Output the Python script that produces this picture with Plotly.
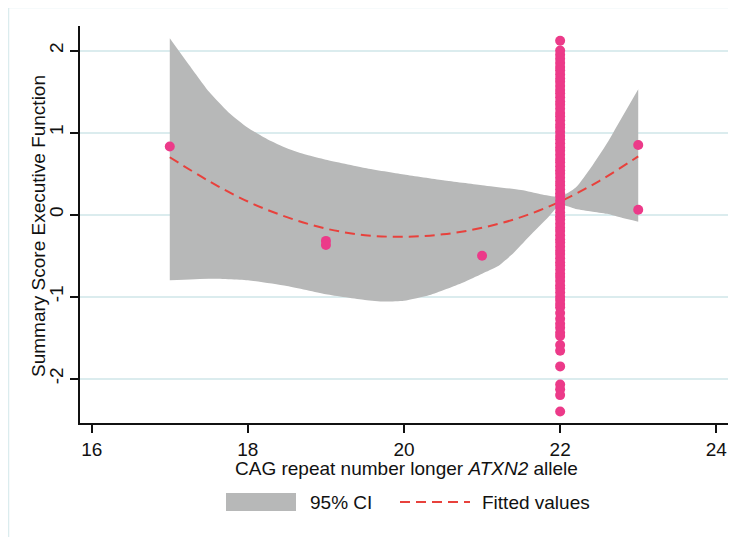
import plotly.graph_objects as go

# ---- data ----
scatter_x_other = [17, 19, 19, 21, 23, 23]
scatter_y_other = [0.83, -0.32, -0.37, -0.50, 0.85, 0.06]

col22_y = [2.12, 2.00, 1.95, 1.90, 1.85, 1.80, 1.76, 1.71, 1.66, 1.62, 1.57, 1.52,
           1.48, 1.43, 1.38, 1.34, 1.29, 1.24, 1.20, 1.15, 1.10, 1.06, 1.01, 0.96,
           0.92, 0.87, 0.82, 0.78, 0.73, 0.68, 0.64, 0.59, 0.54, 0.50, 0.45, 0.40,
           0.36, 0.31, 0.26, 0.22, 0.17, 0.12, 0.08, 0.03, -0.02, -0.06, -0.11,
           -0.16, -0.20, -0.25, -0.30, -0.34, -0.39, -0.44, -0.48, -0.53, -0.58,
           -0.62, -0.67, -0.72, -0.76, -0.81, -0.86, -0.90, -0.95, -1.00, -1.04,
           -1.09, -1.13, -1.20, -1.27, -1.33, -1.38, -1.44, -1.48, -1.59, -1.66,
           -1.85, -2.07, -2.13, -2.20, -2.40]

fit_x = [17, 17.5, 18, 18.5, 19, 19.5, 20, 20.5, 21, 21.5, 22, 22.5, 23]
fit_y = [0.70, 0.41, 0.16, -0.03, -0.17, -0.25, -0.27, -0.24, -0.16, -0.03, 0.16, 0.41, 0.71]

ci_upper_x = [17, 17.25, 17.5, 17.75, 18, 18.25, 18.5, 18.75, 19, 19.5, 20, 20.5, 21,
              21.5, 21.75, 22, 22.2, 22.4, 22.6, 22.8, 23]
ci_upper_y = [2.15, 1.82, 1.50, 1.25, 1.06, 0.92, 0.81, 0.73, 0.67, 0.57, 0.49, 0.42,
              0.36, 0.30, 0.25, 0.22, 0.33, 0.58, 0.87, 1.20, 1.53]

ci_lower_x = [17, 17.5, 18, 18.5, 19, 19.5, 19.75, 20, 20.33, 20.75, 21, 21.2, 21.4,
              21.6, 21.85, 22, 22.2, 22.4, 22.6, 22.8, 23]
ci_lower_y = [-0.80, -0.78, -0.80, -0.87, -0.97, -1.04, -1.06, -1.05, -0.98, -0.83,
              -0.72, -0.63, -0.47, -0.27, -0.03, 0.12, 0.07, 0.04, 0.01, -0.04, -0.085]

x_ticks = [16, 18, 20, 22, 24]
y_ticks = [-2, -1, 0, 1, 2]

X_TITLE = "CAG repeat number longer <i>ATXN2</i> allele"
Y_TITLE = "Summary Score Executive Function"

# ---- layout geometry (page pixel coords; page body has an 8px offset) ----
OFF = 8
W, H = 736, 537
PL, PR, PT, PB = 80, 728, 26, 423          # plot area in page pixels
ML, MT = PL - OFF, PT - OFF
PW, PH = PR - PL, PB - PT
MR = W - ML - PW
MB = H - MT - PH


def px(x):
    return (x - PL) / PW


def py(y):
    return (PB - y) / PH


FONT = "Liberation Sans, Arial, sans-serif"
FS = 19
PINK = "#ec3a89"
RED = "#e8413c"
GRAY = "#b7b8b8"
GRID = "#dbecee"

fig = go.Figure()

# CI band: lower bound (invisible) then upper bound filled to it
fig.add_trace(go.Scatter(x=ci_lower_x, y=ci_lower_y, mode="lines",
                         line=dict(width=0, color=GRAY, shape="spline", smoothing=0.6),
                         showlegend=False, hoverinfo="skip"))
fig.add_trace(go.Scatter(x=ci_upper_x, y=ci_upper_y, mode="lines", fill="tonexty",
                         fillcolor=GRAY, name="95% CI",
                         line=dict(width=0, color=GRAY, shape="spline", smoothing=0.6),
                         showlegend=False, hoverinfo="skip"))

# fitted line
fig.add_trace(go.Scatter(x=fit_x, y=fit_y, mode="lines", name="Fitted values",
                         line=dict(color=RED, width=2, dash="10px,6px", shape="spline"),
                         showlegend=False))

# scatter points
all_x = scatter_x_other + [22] * len(col22_y)
all_y = scatter_y_other + col22_y
fig.add_trace(go.Scatter(x=all_x, y=all_y, mode="markers",
                         marker=dict(color=PINK, size=10, line=dict(width=0)),
                         showlegend=False))

shapes = [
    # outer frame (top & left)
    dict(type="line", xref="paper", yref="paper", x0=px(8), x1=px(W + 20), y0=py(7.5), y1=py(7.5),
         line=dict(color=GRID, width=1.5)),
    dict(type="line", xref="paper", yref="paper", x0=px(8.5), x1=px(8.5), y0=py(7), y1=py(H + 20),
         line=dict(color=GRID, width=1.5)),
    # legend swatches
    dict(type="rect", xref="paper", yref="paper", x0=px(226), x1=px(296), y0=py(493), y1=py(511),
         fillcolor=GRAY, line=dict(width=0)),
    dict(type="line", xref="paper", yref="paper", x0=px(400), x1=px(470), y0=py(502), y1=py(502),
         line=dict(color=RED, width=2, dash="10px,6px")),
]

annotations = [
    dict(text="95% CI", xref="paper", yref="paper", x=px(308), y=py(502), xanchor="left",
         yanchor="middle", showarrow=False, font=dict(family=FONT, size=FS, color="#111")),
    dict(text="Fitted values", xref="paper", yref="paper", x=px(480), y=py(502), xanchor="left",
         yanchor="middle", showarrow=False, font=dict(family=FONT, size=FS, color="#111")),
    # axis titles
    dict(text=X_TITLE, xref="paper", yref="paper", x=px(406), y=py(468), xanchor="center",
         yanchor="middle", showarrow=False, font=dict(family=FONT, size=FS, color="#111")),
    dict(text=Y_TITLE, xref="paper", yref="paper", x=px(38), y=py(226), xanchor="center",
         yanchor="middle", textangle=-90, showarrow=False,
         font=dict(family=FONT, size=FS, color="#111")),
]

fig.update_layout(
    width=W, height=H,
    margin=dict(l=ML, r=MR, t=MT, b=MB),
    paper_bgcolor="white", plot_bgcolor="white",
    font=dict(family=FONT, size=FS, color="#111"),
    shapes=shapes, annotations=annotations,
    showlegend=False,
    xaxis=dict(range=[15.85, 24.15], tickvals=x_ticks, ticktext=[str(t) for t in x_ticks],
               showgrid=False, zeroline=False, showline=True, linecolor="#111", linewidth=1.5,
               ticks="outside", ticklen=8, tickwidth=1.5, tickcolor="#111",
               automargin=False),
    yaxis=dict(range=[-2.54, 2.30], tickvals=y_ticks, ticktext=[str(t) for t in y_ticks],
               tickangle=-90, showgrid=True, gridcolor=GRID, gridwidth=1.5,
               zeroline=False, showline=True, linecolor="#111", linewidth=1.5,
               ticks="outside", ticklen=8, tickwidth=1.5, tickcolor="#111",
               automargin=False),
)

fig.write_html("out.html")
